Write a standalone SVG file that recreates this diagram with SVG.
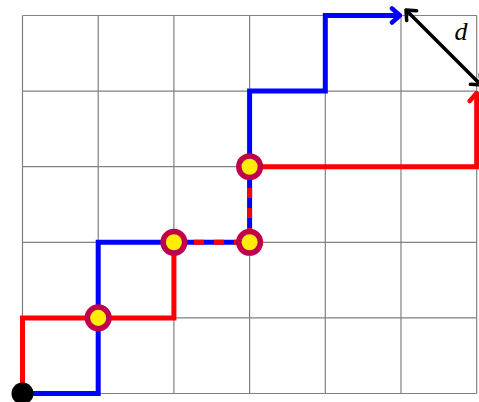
<svg xmlns="http://www.w3.org/2000/svg" width="479" height="402" viewBox="0 0 479 402">
<defs>
<style>
.grid{stroke:#808080;stroke-width:1.2;fill:none}
.path{fill:none;stroke-width:5;stroke-linejoin:miter;stroke-linecap:butt}
.node circle.pt{fill:#ffee00;stroke:#c0004a;stroke-width:5.5}
</style>
<marker id="ab" viewBox="-12 -10 14 20" markerWidth="14" markerHeight="20" refX="0" refY="0" orient="auto" markerUnits="userSpaceOnUse"><path d="M-8,-7 L0,0 L-8,7" fill="none" stroke="#0000ff" stroke-width="4.5" stroke-linecap="round" stroke-linejoin="round"/></marker>
<marker id="ar" viewBox="-12 -10 14 20" markerWidth="14" markerHeight="20" refX="0" refY="0" orient="auto" markerUnits="userSpaceOnUse"><path d="M-8,-7 L0,0 L-8,7" fill="none" stroke="#ff0000" stroke-width="4.5" stroke-linecap="round" stroke-linejoin="round"/></marker>
<marker id="ak" viewBox="-12 -10 14 20" markerWidth="14" markerHeight="20" refX="0" refY="0" orient="auto-start-reverse" markerUnits="userSpaceOnUse"><path d="M-8,-7 L0,0 L-8,7" fill="none" stroke="#000" stroke-width="3.5" stroke-linecap="round" stroke-linejoin="round"/></marker>
</defs>
<rect width="479" height="402" fill="#fff"/>
<g id="grid" class="grid">
<path d="M22.5,15.5V393.5M98.2,15.5V393.5M173.9,15.5V393.5M249.6,15.5V393.5M325.3,15.5V393.5M401,15.5V393.5M476.7,15.5V393.5"/>
<path d="M22.5,15.5H476.7M22.5,91.1H476.7M22.5,166.7H476.7M22.5,242.3H476.7M22.5,317.9H476.7M22.5,393.5H476.7"/>
</g>
<g id="connectors">
<path class="path" stroke="#0000ff" d="M22.5,393.5H98.2V242.3H249.6V91.1H325.3V15.5H400" marker-end="url(#ab)"/>
<path class="path" stroke="#ff0000" d="M22.5,393.5V317.9H173.9V242.3"/>
<path class="path" stroke="#ff0000" stroke-dasharray="10,10" d="M173.9,242.3H249.6V166.7"/>
<path class="path" stroke="#ff0000" d="M249.6,166.7H476.7V93" marker-end="url(#ar)"/>
<path fill="none" stroke="#000" stroke-width="3.5" d="M406,10 L481,85" marker-start="url(#ak)" marker-end="url(#ak)"/>
<text x="461" y="40" font-family="Liberation Serif, serif" font-style="italic" font-size="26" text-anchor="middle">d</text>
</g>
<g id="start" class="node"><circle cx="22.5" cy="393.5" r="11" fill="#000"/></g>
<g id="p1" class="node"><circle class="pt" cx="98.2" cy="317.9" r="10.8"/></g>
<g id="p2" class="node"><circle class="pt" cx="173.9" cy="242.3" r="10.8"/></g>
<g id="p3" class="node"><circle class="pt" cx="249.6" cy="242.3" r="10.8"/></g>
<g id="p4" class="node"><circle class="pt" cx="249.6" cy="166.7" r="10.8"/></g>
</svg>
